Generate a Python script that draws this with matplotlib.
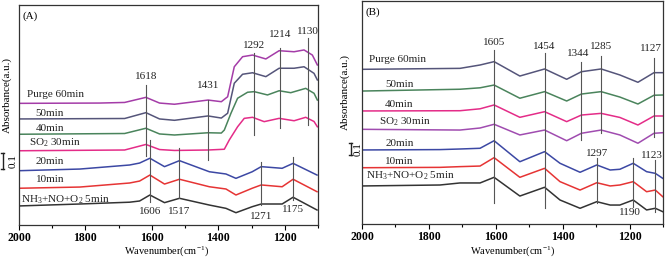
import numpy as np
import matplotlib
matplotlib.use('Agg')
import matplotlib.pyplot as plt
from matplotlib.lines import Line2D

plt.rcParams['font.family'] = ['Liberation Serif', 'DejaVu Serif']
plt.rcParams['mathtext.fontset'] = 'custom'
plt.rcParams['mathtext.rm'] = 'Liberation Serif'
plt.rcParams['mathtext.it'] = 'Liberation Serif:italic'

# ---------------- panel (A) ----------------
a_purge_w = [2000, 1757, 1682, 1618, 1577, 1532, 1431, 1391, 1372, 1352, 1327, 1297, 1257, 1217, 1172, 1142, 1117, 1102]
a_purge_y = [0.811, 0.813, 0.817, 0.851, 0.813, 0.805, 0.833, 0.822, 0.855, 1.055, 1.122, 1.133, 1.107, 1.162, 1.155, 1.167, 1.133, 1.067]
a_50_w = [2000, 1682, 1618, 1577, 1532, 1431, 1391, 1372, 1352, 1327, 1297, 1257, 1217, 1172, 1142, 1112, 1102]
a_50_y = [0.707, 0.710, 0.749, 0.707, 0.698, 0.727, 0.713, 0.745, 0.945, 1.005, 1.015, 0.989, 1.045, 1.045, 1.055, 1.011, 0.967]
a_40_w = [2000, 1682, 1618, 1577, 1532, 1431, 1391, 1382, 1362, 1342, 1312, 1292, 1252, 1217, 1182, 1137, 1112, 1102]
a_40_y = [0.605, 0.610, 0.645, 0.607, 0.600, 0.615, 0.613, 0.633, 0.745, 0.845, 0.885, 0.889, 0.867, 0.895, 0.882, 0.911, 0.878, 0.833]
a_so2_w = [2000, 1682, 1618, 1577, 1532, 1431, 1382, 1367, 1342, 1322, 1297, 1262, 1217, 1172, 1137, 1112, 1102]
a_so2_y = [0.495, 0.500, 0.537, 0.503, 0.497, 0.500, 0.505, 0.567, 0.655, 0.711, 0.718, 0.689, 0.711, 0.695, 0.718, 0.690, 0.655]
a_low_w = [2000, 1817, 1667, 1637, 1606, 1562, 1517, 1427, 1377, 1347, 1298, 1271, 1208, 1175, 1103]
a_20_y = [0.362, 0.373, 0.400, 0.413, 0.445, 0.389, 0.429, 0.355, 0.340, 0.311, 0.355, 0.389, 0.378, 0.411, 0.333]
a_10_y = [0.245, 0.253, 0.280, 0.293, 0.333, 0.273, 0.305, 0.255, 0.240, 0.200, 0.245, 0.267, 0.255, 0.305, 0.222]
a_5_y = [0.127, 0.140, 0.152, 0.160, 0.200, 0.149, 0.178, 0.133, 0.111, 0.082, 0.122, 0.140, 0.140, 0.185, 0.100]

a_names = ['Purge 60min', '50min', '40min', 'SO$_2$ 30min', '20min', '10min', 'NH$_3$+NO+O$_2$ 5min']
a_name_w = [1977, 1950, 1950, 1970, 1950, 1950, 1994]
a_name_y = [0.867, 0.745, 0.645, 0.551, 0.422, 0.305, 0.167]

# marker lines: wavenumber, top, bottom, label height
a_mark_w = [1618, 1431, 1292, 1214, 1130, 1606, 1517, 1271, 1175]
a_mark_top = [0.933, 0.833, 1.147, 1.180, 1.247, 0.567, 0.513, 0.422, 0.455]
a_mark_bot = [0.460, 0.435, 0.600, 0.647, 0.667, 0.155, 0.180, 0.133, 0.167]
a_mark_lab = [0.993, 0.933, 1.200, 1.267, 1.287, 0.087, 0.087, 0.055, 0.100]

# ---------------- panel (B) ----------------
b_up_w = [2000, 1707, 1647, 1605, 1528, 1454, 1388, 1344, 1285, 1229, 1175, 1127, 1100]
b_purge_y = [1.289, 1.297, 1.325, 1.353, 1.233, 1.292, 1.206, 1.269, 1.292, 1.242, 1.181, 1.261, 1.261]
b_50_y = [1.108, 1.123, 1.135, 1.158, 1.048, 1.103, 1.025, 1.083, 1.103, 1.058, 1.000, 1.073, 1.075]
b_40_y = [0.942, 0.944, 0.960, 0.992, 0.889, 0.936, 0.853, 0.908, 0.922, 0.888, 0.825, 0.900, 0.900]
b_so2_y = [0.789, 0.783, 0.800, 0.831, 0.742, 0.783, 0.694, 0.756, 0.783, 0.742, 0.673, 0.756, 0.761]
b_low_w = [2000, 1767, 1707, 1647, 1605, 1528, 1454, 1408, 1348, 1298, 1258, 1229, 1189, 1149, 1123, 1101]
b_20_y = [0.617, 0.620, 0.625, 0.631, 0.694, 0.519, 0.603, 0.506, 0.431, 0.492, 0.450, 0.456, 0.506, 0.436, 0.422, 0.381]
b_10_y = [0.469, 0.472, 0.478, 0.483, 0.553, 0.389, 0.464, 0.353, 0.283, 0.344, 0.317, 0.325, 0.353, 0.269, 0.283, 0.228]
b_5_y = [0.317, 0.325, 0.342, 0.342, 0.389, 0.233, 0.306, 0.200, 0.131, 0.186, 0.158, 0.158, 0.200, 0.117, 0.131, 0.103]

b_names = ['Purge 60min', '50min', '40min', 'SO$_2$ 30min', '20min', '10min', 'NH$_3$+NO+O$_2$ 5min']
b_name_w = [1979, 1931, 1931, 1949, 1931, 1931, 1988]
b_name_y = [1.372, 1.164, 0.998, 0.848, 0.673, 0.519, 0.400]

b_mark_w = [1605, 1454, 1344, 1285, 1127, 1297, 1190, 1123]
b_mark_top = [1.450, 1.425, 1.353, 1.400, 1.383, 0.550, 0.550, 0.533]
b_mark_bot = [0.178, 0.133, 0.700, 0.758, 0.728, 0.175, 0.144, 0.103]
b_mark_lab = [1.514, 1.478, 1.417, 1.483, 1.464, 0.589, 0.092, 0.575]
b_mark_labw = [1605, 1454, 1353, 1285, 1135, 1297, 1199, 1133]

c_purple = '#a43ca8'
c_slate = '#55557a'
c_green = '#4a845c'
c_pink = '#e42c88'
c_blue = '#3c48a4'
c_red = '#e63434'
c_black = '#333333'

fig = plt.figure(figsize=(6.65, 2.58), dpi=100)
axA = fig.add_axes([19/665, 1-225/258, 299/665, 220/258])
axB = fig.add_axes([362/665, 1-224/258, 301/665, 223/258])

a_curves = [(a_purge_w, a_purge_y, c_purple), (a_50_w, a_50_y, c_slate), (a_40_w, a_40_y, c_green),
            (a_so2_w, a_so2_y, c_pink), (a_low_w, a_20_y, c_blue), (a_low_w, a_10_y, c_red),
            (a_low_w, a_5_y, c_black)]
b_curves = [(b_up_w, b_purge_y, c_slate), (b_up_w, b_50_y, c_green), (b_up_w, b_40_y, c_pink),
            (b_up_w, b_so2_y, '#a04cb0'), (b_low_w, b_20_y, c_blue), (b_low_w, b_10_y, c_red),
            (b_low_w, b_5_y, c_black)]

for ax, curves in [(axA, a_curves), (axB, b_curves)]:
    for w, y, c in curves:
        ax.plot(w, y, color=c, lw=1.1, solid_joinstyle='round')

for i in range(len(a_mark_w)):
    axA.plot([a_mark_w[i], a_mark_w[i]], [a_mark_bot[i], a_mark_top[i]], color='#555555', lw=0.8)
    axA.text(a_mark_w[i], a_mark_lab[i], str(a_mark_w[i]), ha='center', va='center', fontsize=8, color='#222222')
for i in range(len(b_mark_w)):
    axB.plot([b_mark_w[i], b_mark_w[i]], [b_mark_bot[i], b_mark_top[i]], color='#555555', lw=0.8)
    axB.text(b_mark_labw[i], b_mark_lab[i], str(b_mark_w[i]), ha='center', va='center', fontsize=8, color='#222222')

for i in range(len(a_names)):
    axA.text(a_name_w[i], a_name_y[i], a_names[i], ha='left', va='center', fontsize=8, color='#222222')
for i in range(len(b_names)):
    axB.text(b_name_w[i], b_name_y[i], b_names[i], ha='left', va='center', fontsize=8, color='#222222')

axA.set_ylim(0, 220/150)
axB.set_ylim(0, 223/120)
for ax, lab in [(axA, '(A)'), (axB, '(B)')]:
    ax.set_xlim(2000, 1100)
    ax.set_xticks([2000, 1800, 1600, 1400, 1200])
    ax.set_xticks(np.arange(1100, 2001, 100), minor=True)
    ax.set_yticks([])
    ax.tick_params(axis='x', which='major', length=3.5, width=0.8, pad=1.5, direction='out', labelsize=8.5)
    ax.tick_params(axis='x', which='minor', length=2, width=0.8, direction='out')
    for t in ax.get_xticklabels():
        t.set_fontweight('bold')
    for s in ax.spines.values():
        s.set_linewidth(0.9)
        s.set_color('#333333')
    ax.text(0.012, 0.95, lab, transform=ax.transAxes, ha='left', va='center', fontsize=8)

# x labels placed by hand so they stay inside the figure
fig.text(166/665, 1-251/258, 'Wavenumber(cm$^{-1}$)', ha='center', va='center', fontsize=7.5)
fig.text(512/665, 1-251/258, 'Wavenumber(cm$^{-1}$)', ha='center', va='center', fontsize=7.5)

# y labels and 0.1 scale bars
fig.text(7/665, 1-95/258, 'Absorbance(a.u.)', rotation=90, ha='center', va='center', fontsize=8)
fig.text(345/665, 1-92/258, 'Absorbance(a.u.)', rotation=90, ha='center', va='center', fontsize=8)
for bx, by0, by1, tx in [(2.5, 153, 168.5, 13), (350.5, 143, 155, 358)]:
    fig.add_artist(Line2D([bx/665, bx/665], [1-by0/258, 1-by1/258], color='#222222', lw=1))
    fig.add_artist(Line2D([(bx-1.5)/665, (bx+1.5)/665], [1-by0/258, 1-by0/258], color='#222222', lw=1))
    fig.add_artist(Line2D([(bx-1.5)/665, (bx+1.5)/665], [1-by1/258, 1-by1/258], color='#222222', lw=1))
    fig.text(tx/665, 1-(by0+by1)/2/258, '0.1', rotation=90, ha='center', va='center', fontsize=8)

fig.savefig('out.png', dpi=100)
